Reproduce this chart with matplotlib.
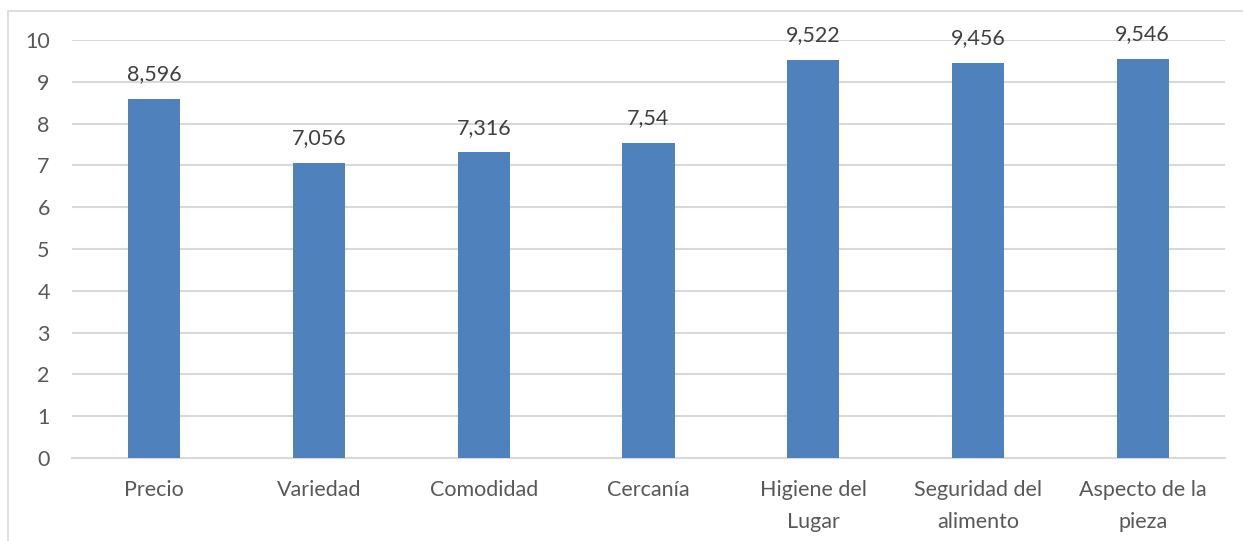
import matplotlib.pyplot as plt
from matplotlib.patches import Rectangle

categorias = ['Precio', 'Variedad', 'Comodidad', 'Cercanía',
              'Higiene del\nLugar', 'Seguridad del\nalimento', 'Aspecto de la\npieza']
valores = [8.596, 7.056, 7.316, 7.54, 9.522, 9.456, 9.546]
etiquetas = ['8,596', '7,056', '7,316', '7,54', '9,522', '9,456', '9,546']
yticks = [0, 1, 2, 3, 4, 5, 6, 7, 8, 9, 10]

plt.rcParams['font.family'] = ['Lato', 'DejaVu Sans']

fig = plt.figure(figsize=(12.43, 5.41), dpi=100)
ax = fig.add_axes([72/1243, 83/541, 1153/1243, 418/541])

# marco del grafico
fig.patches.append(Rectangle((8/1243, -0.1), 1.2, (541-11)/541 + 0.1,
                             transform=fig.transFigure, fill=False,
                             edgecolor='#D9D9D9', linewidth=1.2))

x = range(len(categorias))
ax.bar(x, valores, width=0.316, color='#4F81BD', zorder=3)

for xi, v, t in zip(x, valores, etiquetas):
    ax.annotate(t, (xi, v), xytext=(0, 10.5), textcoords='offset points',
                ha='center', va='bottom', fontsize=15.5, color='#404040')

ax.set_xlim(-0.5, len(categorias) - 0.5)
ax.set_ylim(0, 10)
ax.set_yticks(yticks)
ax.set_xticks(list(x))
ax.set_xticklabels(categorias, linespacing=1.75)
ax.grid(axis='y', color='#D9D9D9', linewidth=1.5, zorder=0)
ax.tick_params(axis='both', length=0, labelsize=15.5, colors='#595959')
ax.tick_params(axis='x', pad=16)
ax.tick_params(axis='y', pad=16)
for lado in ['top', 'right', 'left']:
    ax.spines[lado].set_visible(False)
ax.spines['bottom'].set_color('#D9D9D9')
ax.spines['bottom'].set_linewidth(1.5)

plt.savefig('out.png', dpi=100)
